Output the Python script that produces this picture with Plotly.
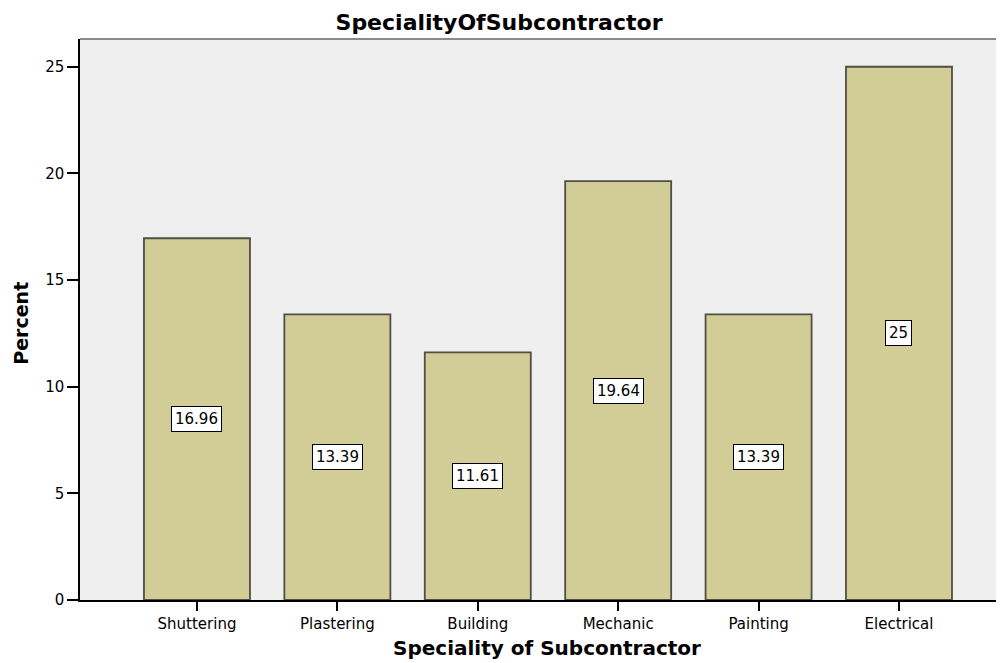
import plotly.graph_objects as go

# ── Data ─────────────────────────────────────────────────────────────────────
categories = ["Shuttering", "Plastering", "Building", "Mechanic", "Painting", "Electrical"]
percent = [16.96, 13.39, 11.61, 19.64, 13.39, 25]
labels = ["16.96", "13.39", "11.61", "19.64", "13.39", "25"]
y_ticks = [0, 5, 10, 15, 20, 25]

# ── Theme ────────────────────────────────────────────────────────────────────
_FONT = "DejaVu Sans, Verdana, sans-serif"
_BAR = "#d2cd96"
_BAR_LINE = "#4f4f45"
_PLOT_BG = "#efefef"

# page body has an 8px margin, so the figure is offset and sized to fit
W, H = 996, 655
L, T, B = 72, 31, 63
PLOT_H = H - T - B

fig = go.Figure(go.Bar(
    x=categories,
    y=percent,
    width=0.755,
    marker=dict(color=_BAR, line=dict(color=_BAR_LINE, width=1.8)),
    hoverinfo="x+y",
))

# boxed value labels at mid-height of each bar
for cat, val, lab in zip(categories, percent, labels):
    fig.add_annotation(
        x=cat, y=val / 2, text=lab, showarrow=False,
        font=dict(family=_FONT, size=15, color="#000"),
        bgcolor="white", bordercolor="#000", borderwidth=1, borderpad=3,
    )

fig.add_annotation(
    x=0.505, y=-(B - 1) / PLOT_H, xref="paper", yref="paper", yanchor="bottom",
    text="<b>Speciality of Subcontractor</b>", showarrow=False,
    font=dict(family=_FONT, size=20, color="#000"),
)
fig.add_annotation(
    x=-0.064, y=0.494, xref="paper", yref="paper", textangle=-90,
    xanchor="center", yanchor="middle",
    text="<b>Percent</b>", showarrow=False,
    font=dict(family=_FONT, size=19, color="#000"),
)

fig.update_layout(
    width=W, height=H,
    paper_bgcolor="white",
    plot_bgcolor=_PLOT_BG,
    margin=dict(l=L, r=0, t=T, b=B),
    font=dict(family=_FONT, size=15, color="#000"),
    showlegend=False,
    title=dict(
        text="<b>SpecialityOfSubcontractor</b>",
        xref="container", yref="container",
        x=0.493, xanchor="center", y=1 - 14 / H, yanchor="middle",
        font=dict(family=_FONT, size=22, color="#000"),
    ),
    shapes=[dict(
        type="line", xref="paper", yref="paper",
        x0=0, x1=1, y0=1, y1=1,
        line=dict(color="#8a8a8a", width=2),
    )],
)

fig.update_xaxes(
    range=[-0.833, 5 + 105 / 140.4],
    showline=True, linecolor="#000", linewidth=1.5,
    ticks="outside", ticklen=9, tickcolor="#000", tickwidth=1.5,
    showgrid=False, zeroline=False,
    tickfont=dict(family=_FONT, size=15, color="#000"),
)
fig.update_yaxes(
    range=[0, 26.3],
    tickvals=y_ticks,
    showline=True, linecolor="#000", linewidth=1.5,
    ticks="outside", ticklen=11, tickcolor="#000", tickwidth=1.5,
    showgrid=False, zeroline=False,
    tickfont=dict(family=_FONT, size=15, color="#000"),
)

fig.write_html("out.html")
